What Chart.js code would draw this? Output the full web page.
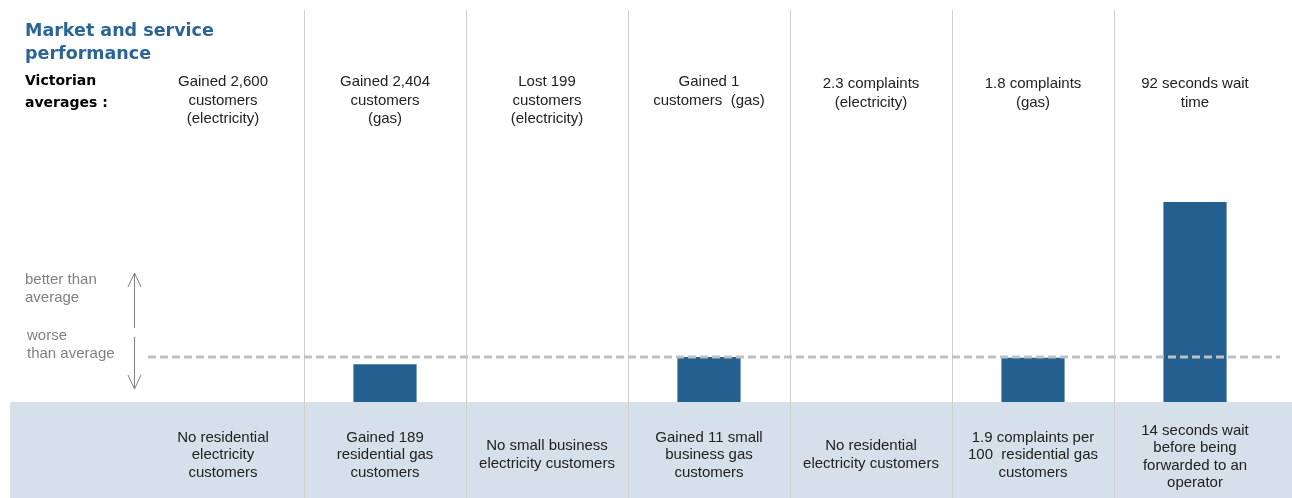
<!DOCTYPE html>
<html>
<head>
<meta charset="utf-8">
<script src="https://cdn.jsdelivr.net/npm/chart.js@4/dist/chart.umd.min.js"></script>
<style>
  html, body { margin: 0; padding: 0; background: #fff; }
  #wrap { width: 1292px; height: 498px; position: relative; }
</style>
</head>
<body>
<div id="wrap"><canvas id="perfChart"></canvas></div>
<script>
// columnas del gráfico
const categories = ['Res. electricity', 'Res. gas', 'SB electricity', 'SB gas', 'Complaints elec.', 'Complaints gas', 'Wait time'];

// textos de promedio victoriano (arriba)
const topLabels = [
  ['Gained 2,600', 'customers', '(electricity)'],
  ['Gained 2,404', 'customers', '(gas)'],
  ['Lost 199', 'customers', '(electricity)'],
  ['Gained 1', 'customers  (gas)'],
  ['2.3 complaints', '(electricity)'],
  ['1.8 complaints', '(gas)'],
  ['92 seconds wait', 'time']
];

// resultados del minorista (abajo)
const bottomLabels = [
  ['No residential', 'electricity', 'customers'],
  ['Gained 189', 'residential gas', 'customers'],
  ['No small business', 'electricity customers'],
  ['Gained 11 small', 'business gas', 'customers'],
  ['No residential', 'electricity customers'],
  ['1.9 complaints per', '100  residential gas', 'customers'],
  ['14 seconds wait', 'before being', 'forwarded to an', 'operator']
];

// índice de desempeño relativo al promedio (1 = promedio)
const barValues = [null, 0.84, null, 1.0, null, 0.98, 4.44];
const averageLevel = 1;

const sansFont = 'Arial, "Liberation Sans", Helvetica, sans-serif';

const bandPlugin = {
  id: 'panel',
  beforeDraw(chart) {
    const { ctx, chartArea } = chart;
    ctx.save();
    ctx.fillStyle = '#d5e0ea';
    ctx.fillRect(10, chartArea.bottom, chart.width - 10, chart.height - chartArea.bottom);
    ctx.restore();
  },
  afterDatasetsDraw(chart) {
    const { ctx, chartArea, scales } = chart;
    const y = Math.round(scales.y.getPixelForValue(averageLevel));
    ctx.save();
    ctx.strokeStyle = '#c0c0c0';
    ctx.lineWidth = 3;
    ctx.setLineDash([8, 4]);
    ctx.beginPath();
    ctx.moveTo(chartArea.left + 6, y);
    ctx.lineTo(chartArea.right + 4, y);
    ctx.stroke();
    ctx.restore();
  },
  afterDraw(chart) {
    const { ctx, scales } = chart;
    ctx.save();
    // título
    ctx.fillStyle = '#2b6596';
    ctx.font = 'bold 17.5px "DejaVu Sans"';
    ctx.textBaseline = 'middle';
    ctx.textAlign = 'left';
    ctx.fillText('Market and service', 25, 31);
    ctx.fillText('performance', 25, 54);

    ctx.fillStyle = '#000';
    ctx.font = 'bold 14px "DejaVu Sans"';
    ctx.fillText('Victorian', 25, 81);
    ctx.fillText('averages :', 25, 103);

    // leyenda de flechas
    ctx.fillStyle = '#808080';
    ctx.font = '15px ' + sansFont;
    ctx.fillText('better than', 25, 280);
    ctx.fillText('average', 25, 298);
    ctx.fillText('worse', 27, 336);
    ctx.fillText('than average', 27, 354);

    ctx.strokeStyle = '#808080';
    ctx.lineWidth = 1;
    ctx.beginPath();
    ctx.moveTo(134.5, 273); ctx.lineTo(134.5, 328);
    ctx.moveTo(128, 287); ctx.lineTo(134.5, 273); ctx.lineTo(141, 287);
    ctx.moveTo(134.5, 337); ctx.lineTo(134.5, 389);
    ctx.moveTo(128, 375); ctx.lineTo(134.5, 389); ctx.lineTo(141, 375);
    ctx.stroke();

    // textos por columna
    ctx.fillStyle = '#222';
    ctx.font = '15px ' + sansFont;
    ctx.textAlign = 'center';
    const lh = 18.5;
    categories.forEach((c, i) => {
      const x = scales.x.getPixelForValue(i);
      const top = topLabels[i];
      const y0 = top.length === 2 && i >= 4 ? 84 : 82;
      top.forEach((t, k) => ctx.fillText(t, x, y0 + k * lh));
      const bot = bottomLabels[i];
      const mid = 455 + (bot.length === 4 ? 2 : 0);
      bot.forEach((t, k) => ctx.fillText(t, x, mid + (k - (bot.length - 1) / 2) * 17.5));
    });
    ctx.restore();
  }
};

const ctx = document.getElementById('perfChart');

new Chart(ctx, {
  type: 'bar',
  data: {
    labels: categories,
    datasets: [{
      data: barValues,
      backgroundColor: '#23608f',
      categoryPercentage: 1,
      barPercentage: 0.39
    }]
  },
  options: {
    responsive: true,
    maintainAspectRatio: false,
    animation: false,
    layout: { padding: { left: 142, right: 16, top: 10, bottom: 0 } },
    plugins: { legend: { display: false }, tooltip: { enabled: false } },
    scales: {
      x: {
        offset: true,
        border: { display: false },
        ticks: { display: false },
        grid: {
          offset: true,
          tickLength: 96,
          lineWidth: 1,
          // sin línea en los bordes izquierdo y derecho
          color: c => (c.type !== 'tick' || c.index === 0) ? 'rgba(0,0,0,0)' : '#d0d0d0'
        }
      },
      y: {
        display: false,
        min: 0,
        max: 8.7
      }
    }
  },
  plugins: [bandPlugin]
});
</script>
</body>
</html>
